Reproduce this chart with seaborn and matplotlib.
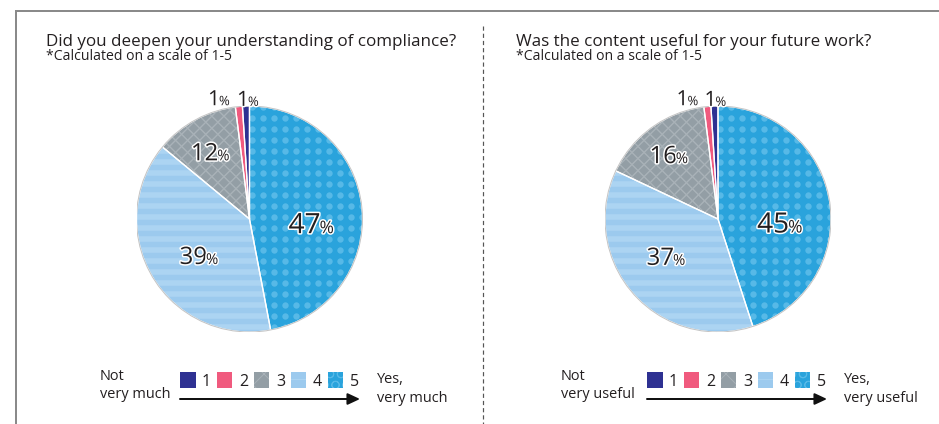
import numpy as np
import matplotlib.pyplot as plt
import matplotlib.patheffects as pe
from matplotlib.patches import Patch, Circle
from matplotlib.collections import LineCollection
from matplotlib.offsetbox import TextArea, HPacker, AnnotationBbox
import seaborn as sns

# survey answers on a 1-5 scale, share of respondents in %
ratings = ["1", "2", "3", "4", "5"]
understanding = [1, 1, 12, 39, 47]
usefulness = [1, 1, 16, 37, 45]

titles = ["Did you deepen your understanding of compliance?",
          "Was the content useful for your future work?"]
note = "*Calculated on a scale of 1-5"
low_ends = [["Not", "very much"], ["Not", "very useful"]]
high_ends = [["Yes,", "very much"], ["Yes,", "very useful"]]

# styling
W, H, DPI = 939, 424, 66
def px(v):
    # pixels -> points
    return v * 72 / DPI

sns.set_theme(style="white")
plt.rcParams["font.family"] = ["Open Sans", "DejaVu Sans"]

palette = sns.color_palette(["#2e3192", "#f05a7e", "#939ea5", "#9ccaee", "#2aa3dc"])
hatches = [None, None, "x", "-", "O"]
tex_cols = ["#2e3192", "#f05a7e", "#a9b2b8", "#acd4f2", "#57b9e7"]
txt_col = "#231f20"

# per wedge (5,4,3,2,1): label distance, angle nudge, font px
lab_style = [
    [(0.55, -12, 28), (0.565, 7, 24), (0.67, 2.5, 24), (1.09, 9, 21), (1.05, -1, 21)],
    [(0.55, -15, 28), (0.58, -4, 24), (0.70, 2.5, 24), (1.09, 9, 21), (1.05, -0.5, 21)],
]
centers = [(249.5, 219), (718, 219)]
R = 113
step = 11 / R  # texture pitch in pie units
text_x = [46, 516]
legend_x = [180, 647]
arrow_end = [360, 827]
high_x = [377, 844]
low_x = [100, 561]

fig = plt.figure(figsize=(W / DPI, H / DPI), dpi=DPI)

# background layer in pixel coordinates
bg = fig.add_axes([0, 0, 1, 1])
bg.set_xlim(0, W)
bg.set_ylim(H, 0)
bg.axis("off")
bg.plot([16, 16, W + 5], [H + 5, 11, 11], color="#8a8a8a", lw=px(2), solid_joinstyle="miter")
bg.plot([483, 483], [26, H], color="#555555", lw=px(1.2), dashes=(3.5, 2.5))


def texture(ax, wedge, kind, color):
    g = np.arange(-1.05, 1.06, step)
    if kind == "-":
        art = ax.hlines(g, -1.05, 1.05, colors=color, lw=px(5.5), zorder=1.5)
    elif kind == "x":
        cs = np.arange(-2.1, 2.1, step * 1.1)
        segs = [[(c - 2, -2), (c + 2, 2)] for c in cs]
        segs += [[(c - 2, 2), (c + 2, -2)] for c in cs]
        art = LineCollection(segs, colors=color, lw=px(1.4), zorder=1.5)
        ax.add_collection(art)
    else:
        X, Y = np.meshgrid(g, g)
        art = ax.scatter(X.ravel(), Y.ravel(), s=px(6.4) ** 2, color=color, lw=0, zorder=1.5)
    art.set_clip_path(wedge)


def pct_label(ax, x, y, value, size):
    pe_fx = [pe.withStroke(linewidth=px(3), foreground="white")]
    num = TextArea(str(value), textprops=dict(fontsize=px(size), color=txt_col, path_effects=pe_fx))
    sign = TextArea("%", textprops=dict(fontsize=px(size * 0.62), color=txt_col, path_effects=pe_fx))
    box = HPacker(children=[num, sign], align="baseline", pad=0, sep=-px(1))
    ab = AnnotationBbox(box, (x, y), frameon=False, box_alignment=(0.5, 0.5), pad=0,
                        annotation_clip=False)
    ab.set_zorder(5)
    ax.add_artist(ab)


for k, values in enumerate([understanding, usefulness]):
    cx, cy = centers[k]
    ax = fig.add_axes([(cx - R) / W, 1 - (cy + R) / H, 2 * R / W, 2 * R / H])
    vals = values[::-1]
    wedges, _ = ax.pie(vals, colors=palette[::-1], startangle=90, counterclock=False,
                       wedgeprops=dict(linewidth=0))
    for w, h, tc in zip(wedges, hatches[::-1], tex_cols[::-1]):
        if h:
            texture(ax, w, h, tc)
    ax.pie(vals, colors=["none"] * 5, startangle=90, counterclock=False,
           wedgeprops=dict(edgecolor="white", linewidth=px(1.3), fill=False, zorder=3))
    ax.add_patch(Circle((0, 0), 1, fill=False, ec="#c4c4c4", lw=px(1), zorder=3))
    ax.set_xlim(-1, 1)
    ax.set_ylim(-1, 1)

    for w, v, (d, nudge, size) in zip(wedges, vals, lab_style[k]):
        ang = np.deg2rad((w.theta1 + w.theta2) / 2 + nudge)
        pct_label(ax, d * np.cos(ang), d * np.sin(ang), v, size)

    # titles
    bg.text(text_x[k], 46.5, titles[k], fontsize=px(17), color=txt_col, va="baseline")
    bg.text(text_x[k], 60.5, note, fontsize=px(14), color=txt_col, va="baseline")

    # legend row
    handles = [Patch(facecolor=c, edgecolor=tc, hatch=h, lw=0)
               for c, tc, h in zip(palette, tex_cols, hatches)]
    fig.legend(handles, ratings, ncol=5, loc="center left",
               bbox_to_anchor=(legend_x[k] / W, 1 - 381 / H), frameon=False,
               fontsize=px(16), handlelength=0.97, handleheight=1.1,
               handletextpad=0.4, columnspacing=0.37, borderpad=0, borderaxespad=0,
               labelcolor=txt_col)
    bg.annotate("", xy=(arrow_end[k], 399), xytext=(legend_x[k], 399),
                arrowprops=dict(arrowstyle="-|>,head_length=0.6,head_width=0.28",
                                color="#111111", lw=px(2), mutation_scale=px(17),
                                shrinkA=0, shrinkB=0))
    bg.text(low_x[k], 380.5, low_ends[k][0], fontsize=px(14.5), color=txt_col, va="baseline")
    bg.text(low_x[k], 397.5, low_ends[k][1], fontsize=px(14.5), color=txt_col, va="baseline")
    bg.text(high_x[k], 383, high_ends[k][0], fontsize=px(14.5), color=txt_col, va="baseline")
    bg.text(high_x[k], 402.5, high_ends[k][1], fontsize=px(14.5), color=txt_col, va="baseline")

fig.savefig("out.png", dpi=DPI, facecolor="white")
